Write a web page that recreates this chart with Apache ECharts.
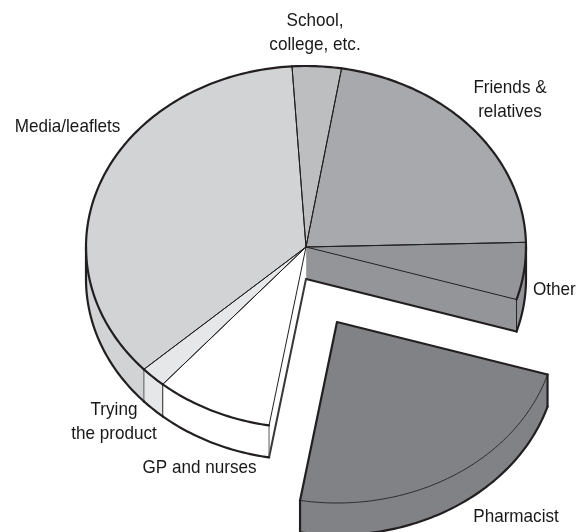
<!DOCTYPE html>
<html><head><meta charset="utf-8">
<style>html,body{margin:0;padding:0;background:#fff}#c{width:578px;height:532px}</style>
<script src="https://cdn.jsdelivr.net/npm/echarts@6/dist/echarts.min.js"></script>
</head><body><div id="c"></div>
<script>
// Data (share of the pie, %), clockwise from School
const categories = ['School, college, etc.', 'Friends & relatives', 'Other', 'Pharmacist', 'GP and nurses', 'Trying the product', 'Media/leaflets'];
const shares = [3.6, 22.0, 5.1, 23.0, 8.6, 1.9, 35.8];
const labelTexts = ['School,\ncollege, etc.', 'Friends &\nrelatives', 'Other', 'Pharmacist', 'GP and nurses', 'Trying\nthe product', 'Media/leaflets'];
const explodedSlice = [false, false, false, true, false, false, false];

// Styling and layout
const fills = ['#bcbec0', '#a7a9ac', '#939598', '#808285', '#ffffff', '#e6e7e8', '#d1d3d4'];
const labelAnchors = [[315, 33, 'center'], [510, 100, 'center'], [533, 290, 'left'], [516, 517, 'center'], [199.5, 468, 'center'], [114, 422, 'center'], [67.5, 127, 'center']];
const INK = '#231f20';
const GREY_EDGE = '#58595b';
const cx = 306, cy = 247, rx = 220, ry = 181, depth = 32, startAngle = -3.65;
const explodeDx = 31, explodeDy = 75;

function sliceShape(i) {
  const total = shares.reduce((a, b) => a + b, 0);
  let a0 = startAngle;
  for (let k = 0; k < i; k++) a0 += shares[k] / total * 360;
  const a1 = a0 + shares[i] / total * 360;
  const ox = explodedSlice[i] ? explodeDx : 0, oy = explodedSlice[i] ? explodeDy : 0;
  const P = (t, r, z) => {
    const q = t * Math.PI / 180;
    return [cx + ox + r * rx * Math.sin(q), cy + oy - r * ry * Math.cos(q) + (z || 0)];
  };
  const arc = (s, e, z) => {
    const pts = [], n = Math.max(2, Math.ceil(Math.abs(e - s)));
    for (let j = 0; j <= n; j++) pts.push(P(s + (e - s) * j / n, 1, z));
    return pts;
  };
  const kids = [];
  const poly = (points, fill) => kids.push({type: 'polygon', z2: 1, shape: {points}, style: {fill, stroke: fill, lineWidth: 0.4}});
  const line = (points, w, col) => kids.push({type: 'polyline', z2: 5, shape: {points}, style: {fill: 'none', stroke: col || INK, lineWidth: w, lineJoin: 'round', lineCap: 'round'}});
  const fill = fills[i];
  const C = P(0, 0), Cz = P(0, 0, depth);

  // side wall (the part of the rim that faces the viewer)
  const ws = Math.max(a0, 90), we = Math.min(a1, 270);
  if (we > ws) {
    const top = arc(ws, we, 0), bot = arc(ws, we, depth);
    poly(top.concat(bot.slice().reverse()), fill);
  }
  // cut faces left open by the exploded slice
  const nextExploded = explodedSlice[(i + 1) % shares.length];
  const prevExploded = explodedSlice[(i - 1 + shares.length) % shares.length];
  if (nextExploded) {
    poly([C, P(a1, 1), P(a1, 1, depth), Cz], fill);
    line([Cz, P(a1, 1, depth)], 2.2);
    line([P(a1, 1), P(a1, 1, depth)], 1);
  }
  if (prevExploded) {
    poly([C, P(a0, 1), P(a0, 1, depth), Cz], fill);
    line([Cz, P(a0, 1, depth)], 2, '#3a3738');
    line([P(a0, 1), P(a0, 1, depth)], 1, GREY_EDGE);
  }
  // wall outlines
  if (we > ws) {
    line(arc(ws, we, depth), 2.2);
    if (ws === 90) line([P(90, 1), P(90, 1, depth)], 2.2);
    if (we === 270) line([P(270, 1), P(270, 1, depth)], 2.2);
    if (!explodedSlice[i] && !prevExploded && ws > 90) line([P(ws, 1), P(ws, 1, depth)], 1, i === shares.length - 1 ? GREY_EDGE : INK);
  }
  // top face
  const rim = arc(a0, a1, 0);
  poly([C].concat(rim), fill);
  // rim line: heavy on the main pie, fine along the front of the exploded slice
  if (explodedSlice[i]) {
    line(rim, 0.9);
    line([P(a1, 1), C, P(a0, 1)], 2.2);
    line([P(a0, 1), P(a0, 1, depth)], 2.2);
    line([P(a1, 1), P(a1, 1, depth)], 2.2);
  } else {
    line(rim, 2.2);
    line([C, P(a0, 1)], 1);
    line([C, P(a1, 1)], 1);
  }
  return {type: 'group', children: kids};
}

function drawOrder(params, api) {
  return sliceShape(api.value(0));
}

const labelGraphics = labelTexts.map((t, i) => ({
  type: 'text', x: labelAnchors[i][0], y: labelAnchors[i][1], z: 10, scaleX: 0.9,
  style: {text: t, fill: '#1a1718', align: labelAnchors[i][2], verticalAlign: 'middle', font: '19px "Liberation Sans", Arial, sans-serif', lineHeight: 24}
}));

const chart = echarts.init(document.getElementById('c'), null, {renderer: 'canvas'});
chart.setOption({
  animation: false,
  backgroundColor: '#ffffff',
  graphic: labelGraphics,
  series: [{
    type: 'custom',
    coordinateSystem: 'none',
    silent: true,
    renderItem: drawOrder,
    data: [6, 0, 1, 2, 5, 4, 3].map(i => ({name: categories[i], value: [i, shares[i]]}))
  }]
});
</script></body></html>
